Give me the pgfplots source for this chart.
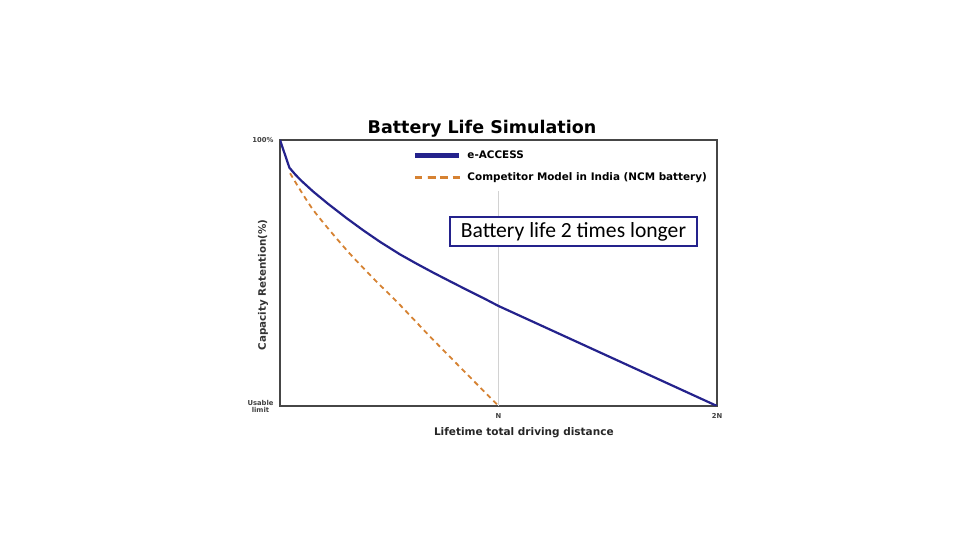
\documentclass[border=0pt]{standalone}
\usepackage{fontspec}
\setmainfont{DejaVu Sans}
\newfontfamily\carlito{Carlito}
\usepackage{pgfplots}
\pgfplotsset{compat=1.18}

\definecolor{navyline}{RGB}{36,34,140}
\definecolor{orangedash}{RGB}{214,130,50}
\definecolor{frame}{RGB}{70,70,70}

\begin{document}
\begin{tikzpicture}[x=1pt,y=1pt]
\fill[white] (0,0) rectangle (970,545);
\useasboundingbox (0,0) rectangle (970,545);
\begin{axis}[
    at={(280pt,139pt)}, anchor=south west,
    scale only axis,
    width=437pt, height=266pt,
    xmin=0, xmax=2, ymin=0, ymax=100,
    xtick={1,2}, xticklabels={N,2N},
    ytick={0,100}, yticklabels={Usable\\limit,100\%},
    major tick length=0pt,
    tick label style={font=\fontsize{6.8}{7}\selectfont\bfseries, text=black!75},
    yticklabel style={align=center, xshift=-3pt},
    xticklabel style={yshift=-4pt},
    axis line style={line width=1.4pt, draw=frame},
    xlabel={Lifetime total driving distance},
    xlabel style={font=\fontsize{10.5}{12}\selectfont\bfseries, text=black!85,
        at={(axis description cs:0.558,-0.1015)}, anchor=center},
    ylabel={Capacity Retention(\%)},
    ylabel style={font=\fontsize{10.3}{11}\selectfont\bfseries, text=black!80,
        at={(axis description cs:-0.039,0.455)}, anchor=center},
    legend style={draw=none, fill=none, at={(0.297,0.975)}, anchor=north west,
        font=\fontsize{10.4}{11}\selectfont\bfseries,
        row sep=8.5pt, legend cell align=left,
        nodes={inner xsep=6pt}},
    legend image code/.code={\draw[#1] plot coordinates {(0pt,0pt) (22pt,0pt) (44pt,0pt)};},
]
\addplot[gray!35, line width=0.6pt, forget plot] coordinates {(1,0) (1,81)};
\addplot[navyline, line width=2.2pt, line join=round,
    legend image post style={line width=4.5pt}] coordinates {
    (0,100) (0.043,89.6) (0.07,87.0) (0.1,84.5) (0.152,80.6) (0.22,76.0)
    (0.305,70.6) (0.38,66.1) (0.458,61.7) (0.549,57.0) (0.625,53.5)
    (0.702,50.1) (0.78,46.8) (0.854,43.7) (0.93,40.6) (1.0,37.6) (2.0,0)
};
\addlegendentry{e-ACCESS}
\addplot[orangedash, line width=1.8pt, dash pattern=on 5pt off 4pt, smooth, tension=0.45,
    legend image post style={line width=2.6pt, dash pattern=on 7pt off 5.5pt}] coordinates {
    (0.046,87.5) (0.152,73.7) (0.305,58.6) (0.427,48) (0.549,38) (0.702,24.8) (1.0,0)
};
\addlegendentry{Competitor Model in India (NCM battery)}
\node[draw=navyline, line width=1.5pt, fill=white, minimum width=247pt,
      minimum height=29pt, inner sep=0pt,
      font=\carlito\fontsize{21.6}{24}\selectfont]
      at (axis cs:1.343,65.6) {Battery life 2 times longer};
\end{axis}
\node[font=\fontsize{17.5}{20}\selectfont\bfseries] at (482,416) {Battery Life Simulation};
\end{tikzpicture}
\end{document}
